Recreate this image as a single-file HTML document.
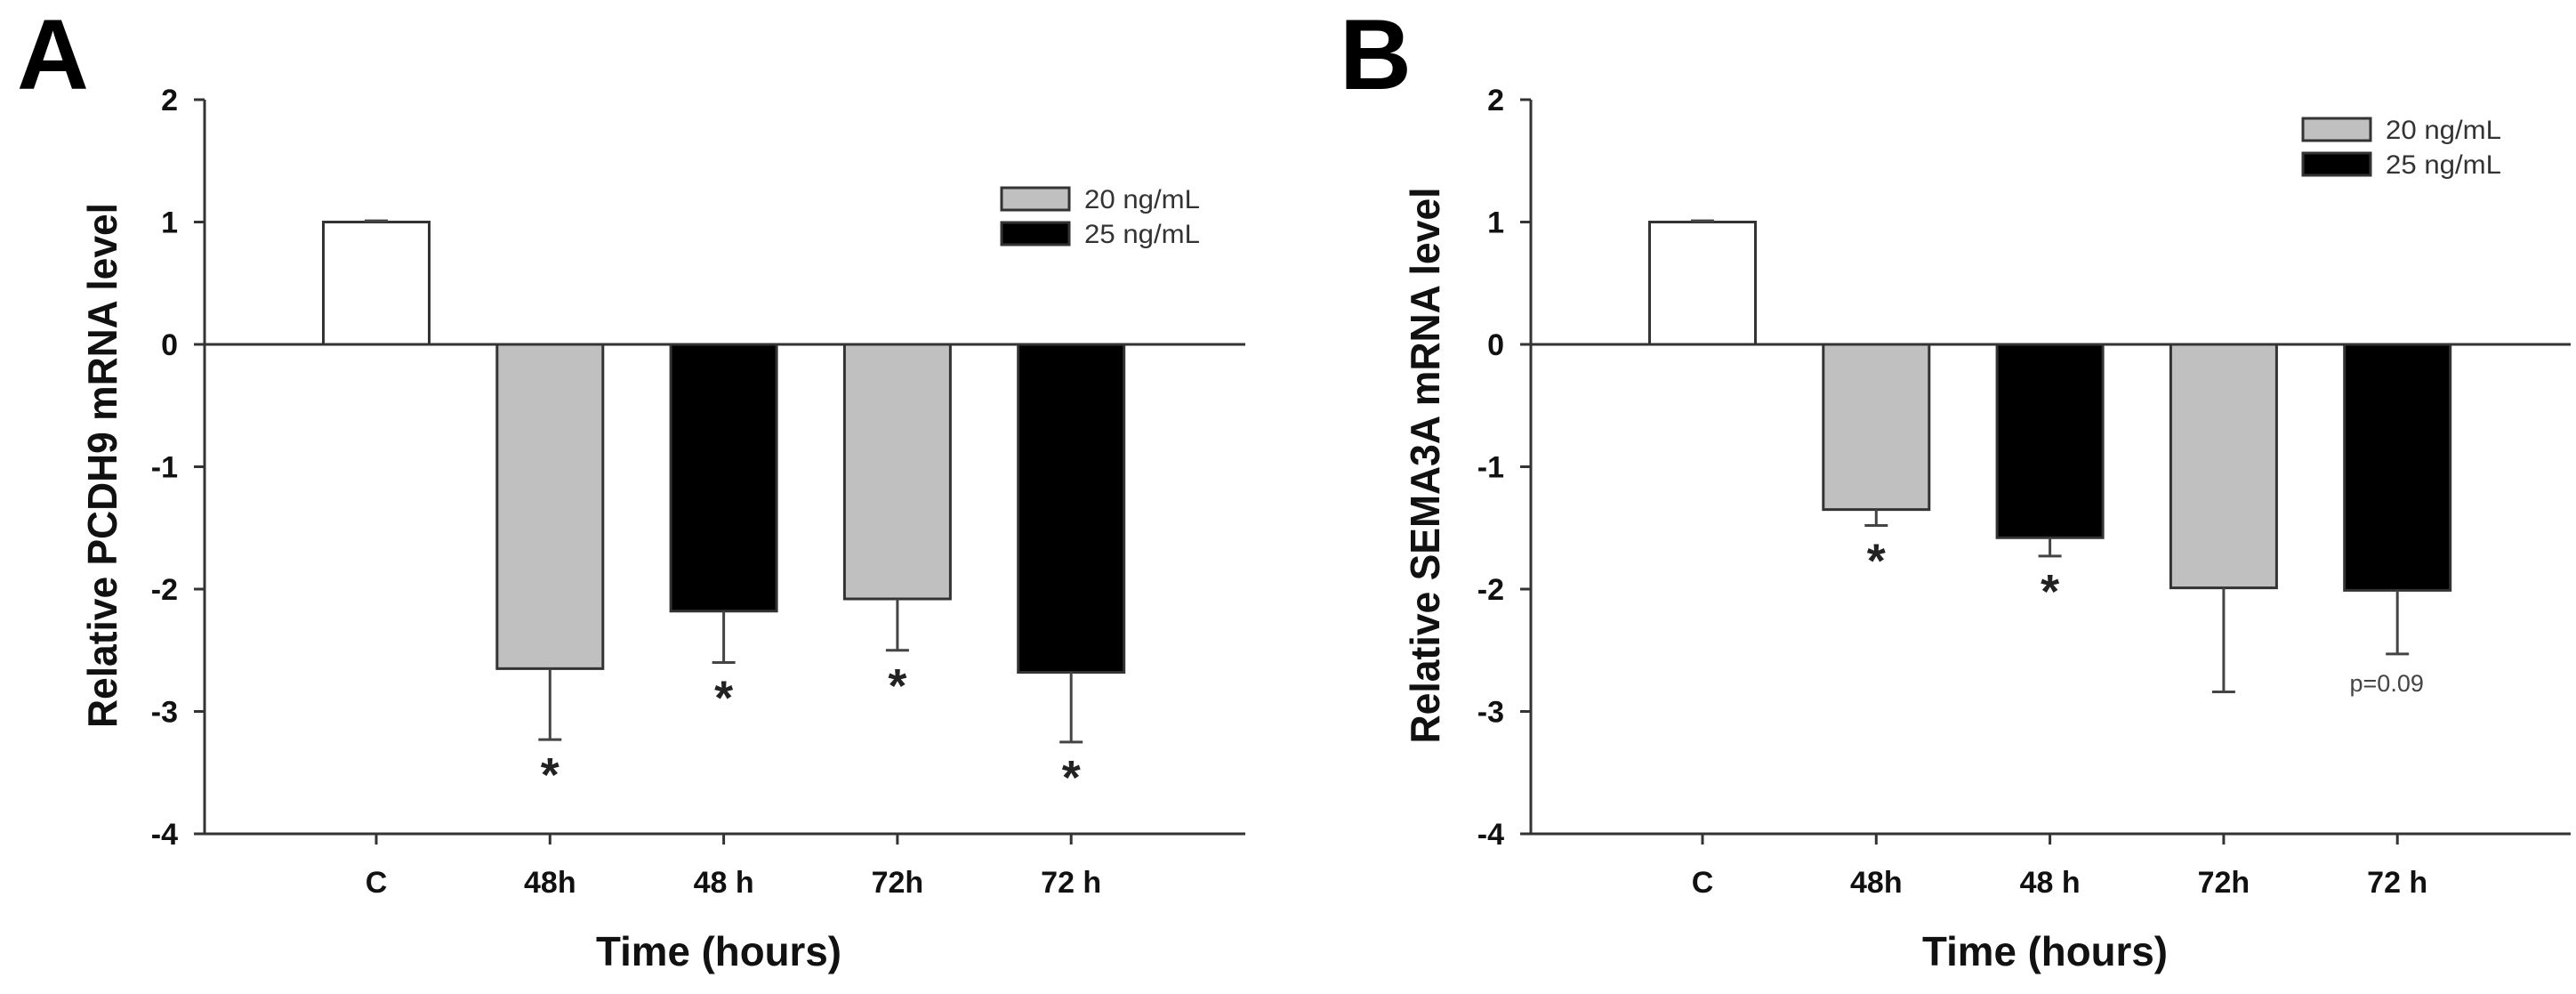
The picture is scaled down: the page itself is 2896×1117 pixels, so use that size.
<!DOCTYPE html>
<html><head><meta charset="utf-8"><style>
html,body{margin:0;padding:0;background:#fff;}
svg{display:block;font-family:"Liberation Sans",Arial,sans-serif;}
</style></head>
<body>
<svg id="fig" width="2896" height="1117" viewBox="0 0 2896 1117" xmlns="http://www.w3.org/2000/svg"></svg>
<script>
const categories = ["C","48h","48 h","72h","72 h"];
const groupOf = ["control","20","25","20","25"];
const valuesA = [1.0,-2.65,-2.18,-2.08,-2.68];
const errorsA = [1.01,-3.23,-2.60,-2.50,-3.25];
const starsA = [false,true,true,true,true];
const valuesB = [1.0,-1.35,-1.58,-1.99,-2.01];
const errorsB = [1.01,-1.48,-1.73,-2.84,-2.53];
const starsB = [false,true,true,false,false];
const yTicks = [2,1,0,-1,-2,-3,-4];
const legendLabels = ["20 ng/mL","25 ng/mL"];

const NS="http://www.w3.org/2000/svg";
const svg=document.getElementById('fig');
function mk(tag,attrs,parent){const e=document.createElementNS(NS,tag);for(const k in attrs)e.setAttribute(k,attrs[k]);(parent||svg).appendChild(e);return e;}
const fills={control:"#ffffff","20":"#c0c0c0","25":"#000000"};

function panel(letter,dx,values,errors,stars,ylabel,legX,legY,yLabLen,pnote){
  const g=mk('g',{});
  
  
  const ax=230+dx, axEnd=(letter==='A'?1400:2890);
  const y=v=>387-v*137.5;
  const x=i=>423+dx+i*195.3;
  const bw=119;
  const L=mk('text',{x:19+dx-(letter==='B'?4:0),y:100,'font-size':112,'font-weight':'bold'},g);L.textContent=letter;
  
  
  values.forEach((v,i)=>{
    const top=Math.min(y(v),y(0)),h=Math.abs(y(v)-y(0));
    const r=mk('rect',{x:x(i)-bw/2,y:top,width:bw,height:h,fill:fills[groupOf[i]],stroke:'#333','stroke-width':3},g);
    
    
    const e=errors[i];
    const el=mk('path',{d:`M${x(i)},${y(v)} V${y(e)} M${x(i)-13},${y(e)} H${x(i)+13}`,stroke:'#444','stroke-width':3,fill:'none'},g);
    
    
    if(stars[i]){
      const s=mk('text',{x:x(i),y:y(e)+58,'text-anchor':'middle','font-size':54,'font-weight':'bold',fill:'#222'},g);s.textContent='*';
      
      
    }
    mk('line',{x1:x(i),x2:x(i),y1:y(-4),y2:y(-4)+12,stroke:'#333','stroke-width':3},g);
    const t=mk('text',{x:x(i),y:1003,'text-anchor':'middle','font-size':34,'font-weight':'bold',fill:'#111'},g);t.textContent=categories[i];
    
    
  });
  if(pnote){
    const p=mk('text',{x:x(4)-12,y:777,'text-anchor':'middle','font-size':27,fill:'#444'},g);p.textContent=pnote;
    
    
  }
  mk('line',{x1:ax,x2:ax,y1:y(2),y2:y(-4),stroke:'#333','stroke-width':3},g);
  mk('line',{x1:ax-12,x2:axEnd,y1:y(0),y2:y(0),stroke:'#333','stroke-width':3},g);
  mk('line',{x1:ax-12,x2:axEnd,y1:y(-4),y2:y(-4),stroke:'#333','stroke-width':3},g);
  yTicks.forEach(v=>{
    mk('line',{x1:ax-12,x2:ax,y1:y(v),y2:y(v),stroke:'#333','stroke-width':3},g);
    const t=mk('text',{x:ax-30,y:y(v)+12,'text-anchor':'end','font-size':34,'font-weight':'bold',fill:'#111'},g);t.textContent=v;
    
    
  });
  const yl=mk('text',{x:0,y:0,'text-anchor':'middle','font-size':46,'font-weight':'bold',fill:'#111',textLength:yLabLen,lengthAdjust:'spacingAndGlyphs',transform:`translate(${(letter==='A'?131:1618)},523) rotate(-90)`},g);yl.textContent=ylabel;
  
  
  const xl=mk('text',{x:808+dx,y:1085,'text-anchor':'middle','font-size':46,'font-weight':'bold',fill:'#111',textLength:276,lengthAdjust:'spacingAndGlyphs'},g);xl.textContent='Time (hours)';
  
  
  legendLabels.forEach((lab,k)=>{
    const yy=legY+k*39;
    const r=mk('rect',{x:legX,y:yy,width:76,height:25,fill:k?'#000':'#c0c0c0',stroke:'#333','stroke-width':3},g);
    
    
    const t=mk('text',{x:legX+93,y:yy+23,'font-size':30,fill:'#333',textLength:130,lengthAdjust:'spacingAndGlyphs'},g);t.textContent=lab;
    
    
  });
}
panel('A',0,valuesA,errorsA,starsA,'Relative PCDH9 mRNA level',1126,211,590,null);
panel('B',1491,valuesB,errorsB,starsB,'Relative SEMA3A mRNA level',2589,133,625,'p=0.09');
</script>
</body></html>
